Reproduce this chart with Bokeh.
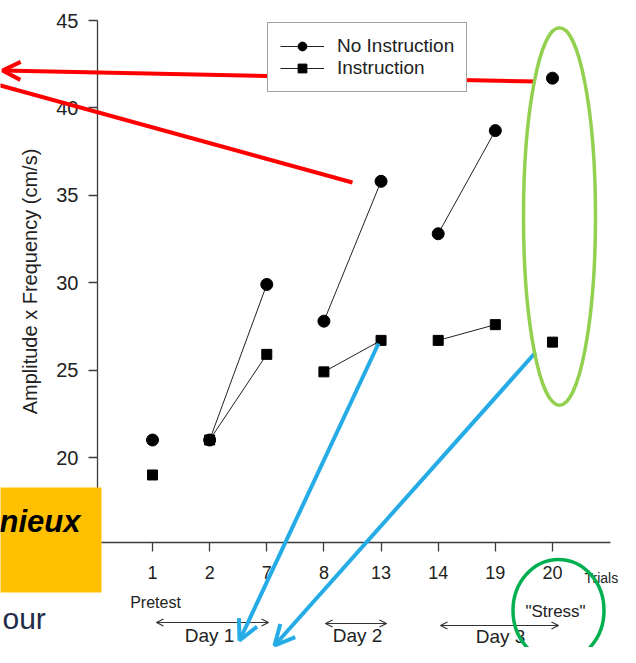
from bokeh.plotting import figure
from bokeh.models import (Range1d, LinearAxis, FixedTicker, Legend, LegendItem,
                          Arrow, OpenHead, Label, BoxAnnotation)
from bokeh.embed import file_html
from bokeh.resources import INLINE

# ---------------- data ----------------
trials = ["1", "2", "7", "8", "13", "14", "19", "20"]
no_instruction = [21.0, 21.0, 29.9, 27.8, 35.8, 32.8, 38.7, 41.7]
instruction = [19.0, 21.0, 25.9, 24.9, 26.7, 26.7, 27.6, 26.6]
y_ticks = [20, 25, 30, 35, 40, 45]
linked_pairs = [(1, 2), (3, 4), (5, 6)]   # trials joined within one day
series_names = ["No Instruction", "Instruction"]

pos = list(range(1, len(trials) + 1))

# ---------------- geometry (reference pixels) ----------------
W, H = 620, 647
X1, DX = 152.0, 57.14     # pixel of first trial, pixels per trial
Y45, DY = 20.0, 17.48     # pixel of value 45, pixels per unit


def xdata(px):
    return 1 + (px - X1) / DX


def ydata(py):
    return 45 - (py - Y45) / DY


FONT = "Liberation Sans"
INK = "#222222"
AXC = "#3c3c3c"
RED = "#FF0000"
BLUE = "#25ACE6"

p = figure(width=W, height=H, output_backend="svg", toolbar_location=None,
           x_range=Range1d(xdata(0), xdata(W)),
           y_range=Range1d(ydata(H), ydata(0)),
           x_axis_type=None, y_axis_type=None, min_border=0,
           outline_line_color=None, background_fill_color="white")
p.extra_x_ranges = {"px": Range1d(0, W)}
p.extra_y_ranges = {"px": Range1d(H, 0)}

x_axis_at = xdata(97)
y_axis_at = ydata(542)

yaxis = LinearAxis(fixed_location=x_axis_at, bounds=(y_axis_at, 45),
                   ticker=FixedTicker(ticks=y_ticks),
                   axis_label="Amplitude x Frequency (cm/s)")
xaxis = LinearAxis(fixed_location=y_axis_at, bounds=(x_axis_at, xdata(610)),
                   ticker=FixedTicker(ticks=pos),
                   major_label_overrides={i: t for i, t in zip(pos, trials)})
for ax in (yaxis, xaxis):
    ax.axis_line_color = AXC
    ax.axis_line_width = 1.3
    ax.major_tick_line_color = AXC
    ax.major_tick_line_width = 1.3
    ax.major_tick_out = 9
    ax.major_tick_in = 0
    ax.minor_tick_out = 0
    ax.minor_tick_in = 0
    ax.major_label_text_font = FONT
    ax.major_label_text_color = INK
yaxis.major_label_text_font_size = "20px"
yaxis.major_label_standoff = 10
yaxis.axis_label_text_font = FONT
yaxis.axis_label_text_font_size = "20px"
yaxis.axis_label_text_font_style = "normal"
yaxis.axis_label_text_color = INK
yaxis.axis_label_standoff = 12
xaxis.major_label_text_font_size = "18px"
xaxis.major_label_standoff = 14
p.add_layout(yaxis, "left")
p.add_layout(xaxis, "below")

# ---------------- data marks ----------------
a_idx = [a for a, b in linked_pairs]
b_idx = [b for a, b in linked_pairs]

r_i_line = p.segment(x0=[pos[a] for a in a_idx], y0=[instruction[a] for a in a_idx],
                     x1=[pos[b] for b in b_idx], y1=[instruction[b] for b in b_idx],
                     line_color=INK, line_width=1)
r_i = p.scatter(pos, instruction, marker="square", size=10, color="black")
r_ni_line = p.segment(x0=[pos[a] for a in a_idx], y0=[no_instruction[a] for a in a_idx],
                      x1=[pos[b] for b in b_idx], y1=[no_instruction[b] for b in b_idx],
                      line_color=INK, line_width=1)
r_ni = p.scatter(pos, no_instruction, marker="circle", size=12, color="black")

legend = Legend(items=[LegendItem(label=series_names[0], renderers=[r_ni_line, r_ni]),
                       LegendItem(label=series_names[1], renderers=[r_i_line, r_i])],
                location=(267, H - 92), margin=0, padding=12, spacing=0,
                glyph_width=44, glyph_height=22, label_height=22, label_standoff=13,
                label_text_font=FONT, label_text_font_size="19px", label_text_color=INK,
                border_line_color="#444444", border_line_width=1,
                background_fill_color="white", background_fill_alpha=1)
p.add_layout(legend)

# ---------------- annotations (reference pixel coordinates) ----------------
PX = dict(x_range_name="px", y_range_name="px")


def txt(x, baseline, s, fs, align="center", style="normal", color=INK):
    # Bokeh places the alphabetic baseline about 0.35 em below y
    p.add_layout(Label(x=x, y=baseline - 0.35 * fs, text=s, text_align=align,
                       text_baseline="alphabetic", text_font=FONT,
                       text_font_size=f"{fs}px", text_font_style=style,
                       text_color=color, **PX))


txt(155, 608, "Pretest", 16)
txt(209, 642, "Day 1", 19)
txt(357, 642, "Day 2", 19)
txt(500, 643, "Day 3", 19)
txt(555, 617, '"Stress"', 17)
txt(584, 582, "Trials", 14, align="left")

for xs, xe, yy in [(156, 268, 622), (325, 386, 623), (440, 558, 625)]:
    p.add_layout(Arrow(x_start=xs, y_start=yy, x_end=xe, y_end=yy,
                       start=OpenHead(size=7, line_width=1.2, line_color="#333333"),
                       end=OpenHead(size=7, line_width=1.2, line_color="#333333"),
                       line_color="#333333", line_width=1.2, **PX))

# orange box with slide text
p.add_layout(BoxAnnotation(left=-10, right=101, top=487, bottom=592,
                           fill_color="#FFC000", fill_alpha=1, line_color=None, **PX))
txt(80, 532, "nieux", 31, align="right", style="bold italic", color="black")
txt(2, 628, "our", 30, align="left", color="#1F2B47")

# green ellipses
p.ellipse(x=[559], y=[216], width=[72], height=[378], fill_color=None,
          line_color="#92D050", line_width=3.5, level="overlay", **PX)
p.ellipse(x=[558], y=[610], width=[91], height=[102], fill_color=None,
          line_color="#00B050", line_width=3.5, level="overlay", **PX)

# red arrows
p.add_layout(Arrow(x_start=535, y_start=81, x_end=2, y_end=70,
                   end=OpenHead(size=18, line_color=RED, line_width=4),
                   line_color=RED, line_width=4, **PX))
p.add_layout(Arrow(x_start=352, y_start=182, x_end=-20, y_end=79.5, end=None,
                   line_color=RED, line_width=4, **PX))

# blue arrows
p.add_layout(Arrow(x_start=378, y_start=343, x_end=239, y_end=640,
                   end=OpenHead(size=20, line_color=BLUE, line_width=4),
                   line_color=BLUE, line_width=4, **PX))
p.add_layout(Arrow(x_start=535, y_start=352, x_end=274, y_end=645,
                   end=OpenHead(size=20, line_color=BLUE, line_width=4),
                   line_color=BLUE, line_width=4, **PX))

open("out.html", "w").write(file_html(p, INLINE))
